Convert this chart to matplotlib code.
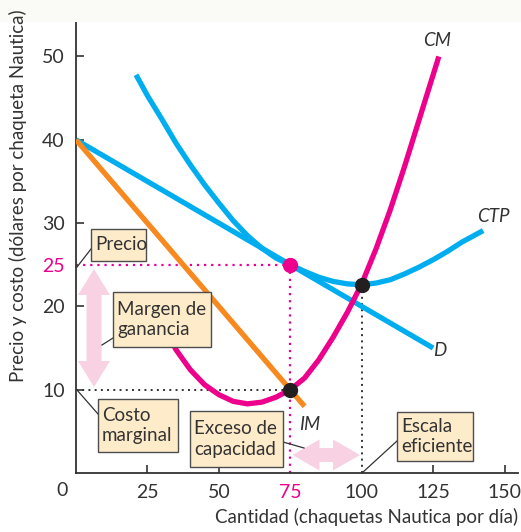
import matplotlib
matplotlib.use("Agg")
import matplotlib.pyplot as plt
from matplotlib.patches import Polygon, Rectangle

# ---------------- data ----------------
q_demand = [0, 125]
p_demand = [40, 15]

q_mr = [0, 80]
p_mr = [40, 8]

q_mc = [30, 35, 40, 45, 50, 55, 60, 65, 70, 75, 80, 85, 90, 95, 100, 105, 110, 115, 120, 127]
p_mc = [18.0, 14.8, 12.4, 10.6, 9.4, 8.6, 8.3, 8.5, 9.1, 10.0, 11.4, 13.6, 16.3, 19.3, 22.7, 26.9, 31.6, 36.8, 42.3, 50.0]

q_atc = [21, 25, 30, 35, 40, 45, 50, 55, 60, 65, 70, 75, 80, 85, 90, 95, 100, 105, 110, 115, 120, 125, 130, 135, 142.5]
p_atc = [47.8, 45.3, 42.5, 39.6, 37.0, 34.6, 32.4, 30.3, 28.5, 27.0, 25.8, 25.0, 24.2, 23.5, 23.0, 22.7, 22.6, 22.8, 23.2, 23.9, 24.7, 25.6, 26.6, 27.7, 29.1]

q_eq, p_price, p_mcost = 75, 25, 10
q_eff, p_eff = 100, 22.6

x_ticks = [25, 50, 75, 100, 125, 150]
y_ticks = [10, 20, 25, 30, 40, 50]
x_highlight = [75]
y_highlight = [25]

# ---------------- style ----------------
W, H = 521, 532
CYAN = "#00AEEF"
MAG = "#EC008C"
ORANGE = "#F7891F"
PINK = "#F8D2E2"
BOXFC = "#FDEBC9"
DARK = "#333333"
FONT = "Lato"
FS = 13.5
FS_TICK = 14

plt.rcParams["font.family"] = [FONT, "DejaVu Sans"]

fig = plt.figure(figsize=(W / 100, H / 100), dpi=100)
fig.patch.set_facecolor("white")

def fx(x):
    return x / W

def fy(y):
    return 1 - y / H

# faint top band
fig.patches.append(Rectangle((0, fy(22)), 1, 22 / H, transform=fig.transFigure,
                             facecolor="#FAFAF6", edgecolor="none", zorder=0))

ax = fig.add_axes([fx(76), fy(473), fx(518) - fx(76), fy(9) - fy(473)])
ax.set_facecolor("none")
ax.set_xlim(0, 154.7)
ax.set_ylim(0, 55.7)
for s in ("top", "right"):
    ax.spines[s].set_visible(False)
for s in ("left", "bottom"):
    ax.spines[s].set_color(DARK)
    ax.spines[s].set_linewidth(1.3)

ax.set_xticks(x_ticks)
ax.set_yticks(y_ticks)
ax.tick_params(direction="in", length=6, width=1.2, color=DARK, labelsize=FS_TICK,
               labelcolor=DARK, pad=8)
for lab, v in zip(ax.get_xticklabels(), x_ticks):
    if v in x_highlight:
        lab.set_color(MAG)
for lab, v in zip(ax.get_yticklabels(), y_ticks):
    if v in y_highlight:
        lab.set_color(MAG)
for t, v in zip(ax.xaxis.get_major_ticks(), x_ticks):
    if v in (75, 100):
        t.tick1line.set_visible(False)
for t, v in zip(ax.yaxis.get_major_ticks(), y_ticks):
    if v == 25:
        t.tick1line.set_visible(False)

fig.text(fx(62), fy(490), "0", fontsize=FS_TICK, color=DARK, ha="center", va="center")

fig.text(fx(518), fy(517), "Cantidad (chaquetas Nautica por día)", fontsize=FS,
         color=DARK, ha="right", va="center")
fig.text(fx(18), fy(9), "Precio y costo (dólares por chaqueta Nautica)", fontsize=FS,
         color=DARK, ha="center", va="top", rotation=90)

# guides
ax.plot([0, q_eq], [p_price, p_price], ls=(0, (1, 2.2)), color=MAG, lw=1.6, zorder=2)
ax.plot([q_eq, q_eq], [0, p_price], ls=(0, (1, 2.2)), color=MAG, lw=1.6, zorder=2)
ax.plot([0, q_eq], [p_mcost, p_mcost], ls=(0, (1, 2.2)), color=DARK, lw=1.4, zorder=2)
ax.plot([q_eff, q_eff], [0, p_eff], ls=(0, (1, 2.2)), color=DARK, lw=1.4, zorder=2)

# curves
lw = 3.8
ax.plot(q_demand, p_demand, color=CYAN, lw=lw, solid_capstyle="butt", zorder=3)
ax.plot(q_atc, p_atc, color=CYAN, lw=lw, solid_capstyle="butt", solid_joinstyle="round", zorder=3)
ax.plot(q_mc, p_mc, color=MAG, lw=lw, solid_capstyle="butt", solid_joinstyle="round", zorder=4)
ax.plot(q_mr, p_mr, color=ORANGE, lw=lw, solid_capstyle="butt", zorder=4)

ax.plot([q_eq], [p_price], "o", color=MAG, ms=10, zorder=6)
ax.plot([q_eq], [p_mcost], "o", color="#231F20", ms=10, zorder=6)
ax.plot([q_eff], [p_eff], "o", color="#231F20", ms=10, zorder=6)

# curve labels
lab_kw = dict(fontsize=FS, color=DARK, style="italic", ha="center", va="center")
fig.text(fx(437), fy(41), "CM", **lab_kw)
fig.text(fx(493), fy(216), "CTP", **lab_kw)
fig.text(fx(440), fy(351), "D", **lab_kw)
fig.text(fx(310), fy(424), "IM", **lab_kw)

# pink double arrows (pixel geometry)
def vpoly(xc, y0, y1, hl, hw, sw):
    pts = [(xc, y0), (xc + hw, y0 + hl), (xc + sw, y0 + hl), (xc + sw, y1 - hl),
           (xc + hw, y1 - hl), (xc, y1), (xc - hw, y1 - hl), (xc - sw, y1 - hl),
           (xc - sw, y0 + hl), (xc - hw, y0 + hl)]
    return [(fx(a), fy(b)) for a, b in pts]

def hpoly(yc, x0, x1, hl, hw, sw):
    pts = [(x0, yc), (x0 + hl, yc - hw), (x0 + hl, yc - sw), (x1 - hl, yc - sw),
           (x1 - hl, yc - hw), (x1, yc), (x1 - hl, yc + hw), (x1 - hl, yc + sw),
           (x0 + hl, yc + sw), (x0 + hl, yc + hw)]
    return [(fx(a), fy(b)) for a, b in pts]

fig.patches.append(Polygon(vpoly(94, 269, 387, 26, 16, 7.5), closed=True,
                           transform=fig.transFigure, facecolor=PINK, edgecolor="none", zorder=5))
fig.patches.append(Polygon(hpoly(455, 292.5, 360, 27, 15.5, 7), closed=True,
                           transform=fig.transFigure, facecolor=PINK, edgecolor="none", zorder=5))

# boxes with text
def box(x0, y0, x1, y1, text):
    fig.patches.append(Rectangle((fx(x0), fy(y1)), fx(x1) - fx(x0), fy(y0) - fy(y1),
                                 transform=fig.transFigure, facecolor=BOXFC,
                                 edgecolor="#4D4D4D", lw=1.0, zorder=8))
    fig.text(fx(x0 + 4), fy((y0 + y1) / 2), text, fontsize=FS, color=DARK,
             ha="left", va="center", linespacing=1.25, zorder=9)

def leader(x0, y0, x1, y1):
    fig.lines.append(plt.Line2D([fx(x0), fx(x1)], [fy(y0), fy(y1)], transform=fig.transFigure,
                                color=DARK, lw=0.9, zorder=7))

leader(91, 249, 77, 267)
box(91, 229, 146, 261, "Precio")

leader(113, 338, 102, 345)
box(113, 292, 211, 347, "Margen de\nganancia")

leader(98, 414, 77, 390)
box(98, 399, 178, 452, "Costo\nmarginal")

leader(283, 442, 304, 448)
box(190, 411, 283, 467, "Exceso de\ncapacidad")

leader(397, 441, 362, 473)
box(397, 412, 473, 461, "Escala\neficiente")

fig.savefig("out.png", dpi=100)
